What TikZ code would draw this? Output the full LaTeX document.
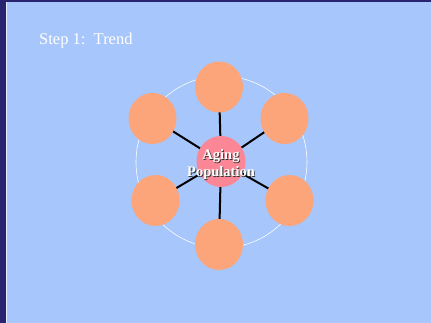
\documentclass[tikz,border=0pt]{standalone}
\usepackage{fontspec}
\setmainfont{Liberation Serif}
\usetikzlibrary{shapes.geometric,backgrounds}
\definecolor{slidebg}{RGB}{166,198,252}
\definecolor{frame}{RGB}{41,36,112}
\definecolor{peach}{RGB}{252,165,122}
\definecolor{rose}{RGB}{250,134,150}
\tikzset{
  satellite/.style={ellipse, fill=peach, inner sep=0pt, minimum width=48pt, minimum height=51pt},
  hub/.style={ellipse, fill=rose, inner sep=0pt, minimum width=49pt, minimum height=51pt},
  spoke/.style={line width=2pt, black},
  ring/.style={draw=white, line width=0.6pt},
  hubtext/.style={font=\bfseries\fontsize{14.5}{17}\selectfont, align=center, inner sep=0pt},
}
\begin{document}
\begin{tikzpicture}[x=1pt,y=-1pt]
\useasboundingbox (0,0) rectangle (431,323);

\node[anchor=base west, text=white, font=\fontsize{16.5}{18}\selectfont, inner sep=0pt] (title) at (39,45) {Step 1:\ \ Trend};

% hub and satellites
\node[hub] (c) at (221,161.5) {};
\node[satellite] (n1) at (219,87) {};
\node[satellite] (n2) at (284.5,118.5) {};
\node[satellite] (n3) at (289.5,200.5) {};
\node[satellite] (n4) at (219,244.5) {};
\node[satellite] (n5) at (155.5,200.5) {};
\node[satellite] (n6) at (152.5,118.5) {};

\begin{scope}[on background layer]
  % slide frame and background
  \fill[frame] (0,0) rectangle (431,323);
  \fill[slidebg] (6,2) rectangle (431,323);
  \draw[white!70!slidebg, line width=0.8pt] (6.4,2) -- (6.4,323);
  \draw[ring] (221.5,162) ellipse [x radius=85.5, y radius=86];
  \foreach \n in {n1,n2,n3,n4,n5,n6}
    \draw[spoke] (c.center) -- (\n.center);
\end{scope}

% hub label with a dark drop shadow
\node[hubtext, text=black!80] (labelshadow) at ([shift={(0.9,3.9)}]c.center) {Aging\\Population};
\node[hubtext, text=white] (label) at ([shift={(0,3)}]c.center) {Aging\\Population};
\end{tikzpicture}
\end{document}
